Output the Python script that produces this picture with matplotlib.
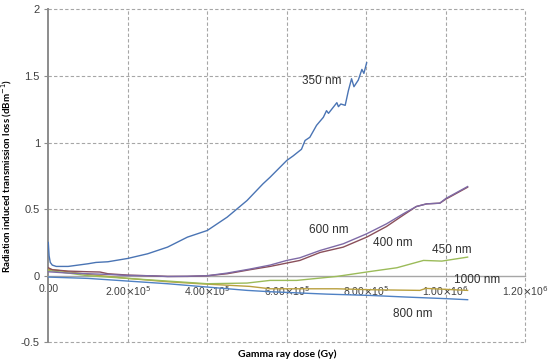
import matplotlib
matplotlib.use("Agg")
import matplotlib.pyplot as plt

# ---- data (dose in Gy, loss in dB/m) ----
x_350 = [0, 0.02e5, 0.05e5, 0.1e5, 0.2e5, 0.5e5, 1.0e5, 1.2e5, 1.5e5, 2.0e5, 2.5e5,
         3.0e5, 3.5e5, 4.0e5, 4.5e5, 5.0e5, 5.4e5, 5.58e5, 6.0e5, 6.16e5, 6.37e5,
         6.46e5, 6.58e5, 6.75e5, 6.92e5, 7.0e5, 7.05e5, 7.26e5, 7.3e5, 7.36e5,
         7.47e5, 7.55e5, 7.63e5, 7.69e5, 7.8e5, 7.89e5, 7.94e5, 8.01e5]
y_350 = [0.25, 0.15, 0.10, 0.08, 0.07, 0.07, 0.09, 0.10, 0.105, 0.13, 0.165,
         0.215, 0.29, 0.34, 0.44, 0.565, 0.69, 0.74, 0.866, 0.90, 0.95,
         1.016, 1.04, 1.13, 1.19, 1.24, 1.22, 1.30, 1.27, 1.29,
         1.28, 1.39, 1.48, 1.42, 1.47, 1.55, 1.52, 1.60]

x_600 = [0, 0.5e5, 1.0e5, 1.5e5, 2.0e5, 2.56e5, 3.0e5, 3.5e5, 4.0e5, 4.5e5, 5.07e5,
         5.58e5, 6.0e5, 6.33e5, 6.84e5, 7.42e5, 8.01e5, 8.51e5, 8.93e5, 9.26e5,
         9.52e5, 9.85e5, 1.0e6, 1.055e6]
y_600 = [0.03, 0.02, 0.015, 0.01, 0.002, 0.0, -0.006, -0.004, 0.0, 0.02, 0.05,
         0.08, 0.115, 0.135, 0.19, 0.24, 0.315, 0.39, 0.465, 0.52,
         0.54, 0.545, 0.58, 0.67]

x_400 = [0, 0.1e5, 0.5e5, 1.0e5, 1.3e5, 1.5e5, 2.0e5, 3.0e5, 3.5e5, 4.0e5, 4.5e5,
         5.07e5, 5.58e5, 6.08e5, 6.33e5, 6.84e5, 7.42e5, 8.01e5, 8.51e5, 8.93e5,
         9.26e5, 9.52e5, 9.85e5, 1.0e6, 1.055e6]
y_400 = [0.06, 0.045, 0.035, 0.03, 0.028, 0.015, 0.005, -0.005, -0.005, 0.0, 0.015,
         0.045, 0.07, 0.10, 0.115, 0.175, 0.215, 0.29, 0.37, 0.455,
         0.52, 0.54, 0.545, 0.575, 0.665]

x_450 = [0, 1.0e5, 2.0e5, 3.0e5, 4.0e5, 5.0e5, 5.58e5, 6.25e5, 7.26e5, 8.1e5,
         8.77e5, 9.44e5, 9.9e5, 1.055e6]
y_450 = [0.04, 0.0, -0.02, -0.04, -0.06, -0.055, -0.035, -0.035, -0.005, 0.032,
         0.06, 0.115, 0.11, 0.14]

x_1000 = [0, 0.5e5, 1.0e5, 2.0e5, 3.0e5, 3.8e5, 5.07e5, 5.58e5, 7.26e5, 8.1e5,
          9.35e5, 9.5e5, 1.055e6]
y_1000 = [0.05, 0.03, 0.01, -0.02, -0.045, -0.06, -0.08, -0.098, -0.098, -0.105,
          -0.11, -0.095, -0.11]

x_800 = [0, 1.0e5, 2.0e5, 3.0e5, 4.0e5, 5.0e5, 5.58e5, 7.0e5, 8.1e5, 9.0e5,
         1.0e6, 1.055e6]
y_800 = [-0.01, -0.02, -0.04, -0.06, -0.085, -0.11, -0.12, -0.138, -0.148, -0.16,
         -0.172, -0.18]

x_ticks = [0, 2e5, 4e5, 6e5, 8e5, 1e6, 1.2e6]
x_tick_labels = ["0.00", r"2.00$\times$10$^5$", r"4.00$\times$10$^5$",
                 r"6.00$\times$10$^5$", r"8.00$\times$10$^5$",
                 r"1.00$\times$10$^6$", r"1.20$\times$10$^6$"]
y_ticks = [-0.5, 0, 0.5, 1, 1.5, 2]
y_tick_labels = ["-0.5", "0", "0.5", "1", "1.5", "2"]

# label positions (x, y) in data units
labels = {
    "350 nm": (6.88e5, 1.466),
    "600 nm": (7.05e5, 0.34),
    "400 nm": (8.68e5, 0.245),
    "450 nm": (1.015e6, 0.195),
    "1000 nm": (1.08e6, -0.035),
    "800 nm": (9.18e5, -0.29),
}

plt.rcParams['font.family'] = ['Liberation Sans', 'DejaVu Sans']

fig = plt.figure(figsize=(5.5, 3.62), dpi=100)
ax = fig.add_axes([0.0878, 0.0544, 0.955 - 0.0878, 0.9738 - 0.0544])

lw = 1.0
ax.plot(x_350, y_350, color="#4A74B4", lw=lw, zorder=3)
ax.plot(x_800, y_800, color="#4F81C4", lw=lw, zorder=3)
ax.plot(x_1000, y_1000, color="#B9A03E", lw=lw, zorder=3)
ax.plot(x_450, y_450, color="#9BBB59", lw=lw, zorder=3)
ax.plot(x_400, y_400, color="#8A4F5A", lw=lw, zorder=3)
ax.plot(x_600, y_600, color="#7E6AA6", lw=lw, zorder=3)

ax.set_xlim(0, 1.2e6)
ax.set_ylim(-0.5, 2)

# excel-like frame: axis crosses at y = 0
ax.spines["bottom"].set_position(("data", 0))
ax.spines["bottom"].set_color("#A6A6A6")
ax.spines["bottom"].set_linewidth(1.0)
ax.spines["left"].set_color("#8C8C8C")
ax.spines["left"].set_linewidth(1.4)
ax.spines["top"].set_visible(False)
ax.spines["right"].set_visible(False)

ax.set_xticks(x_ticks)
ax.set_xticklabels(x_tick_labels, fontsize=7.5, color="#404040")
ax.set_yticks(y_ticks)
ax.set_yticklabels(y_tick_labels, fontsize=8, color="#404040")
ax.tick_params(axis="x", length=0, pad=6)
ax.tick_params(axis="y", length=3, color="#8C8C8C", pad=3)

for yv in y_ticks:
    if yv != 0:
        ax.axhline(yv, color="#A6A6A6", lw=0.8, ls=(0, (3, 2)), zorder=1, clip_on=False)
for xv in x_ticks[1:]:
    ax.axvline(xv, color="#A6A6A6", lw=0.8, ls=(0, (3, 2)), zorder=1, clip_on=False)

for txt, (tx, ty) in labels.items():
    ax.text(tx, ty, txt, fontsize=8.5, color="#303030", ha="center", va="center", zorder=4)

ax.set_ylabel("Radiation induced transmission loss (dBm$^{-1}$)",
              fontsize=7, fontweight="bold", family=["Lato", "DejaVu Sans"], labelpad=5)
ax.text(0.5, -0.035, "Gamma ray dose (Gy)", transform=ax.transAxes,
        fontsize=7.5, fontweight="bold", family=["Lato", "DejaVu Sans"],
        ha="center", va="center")

fig.savefig("out.png", dpi=100)
